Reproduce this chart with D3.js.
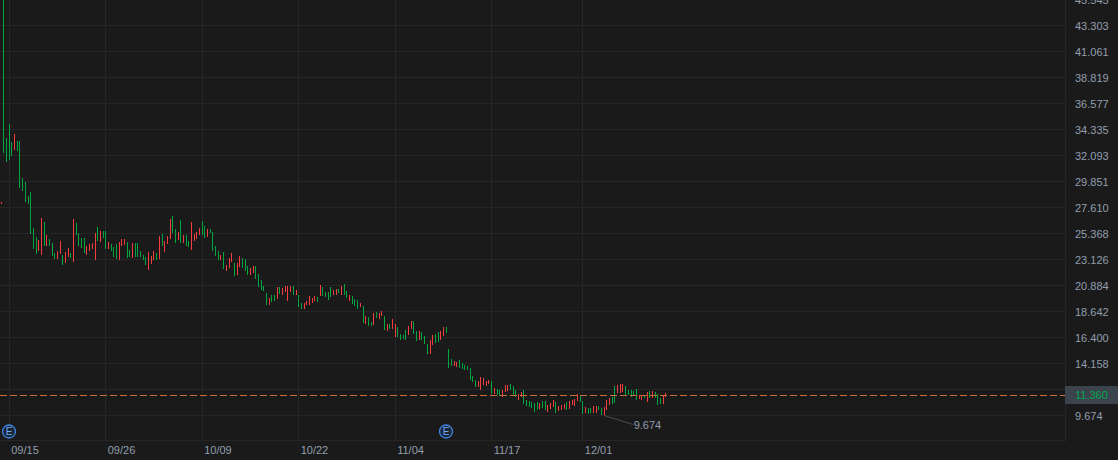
<!DOCTYPE html>
<html><head><meta charset="utf-8">
<script src="https://cdn.jsdelivr.net/npm/d3@7"></script>
<style>html,body{margin:0;padding:0;background:#1a1a1a;overflow:hidden}svg{display:block}text{font-family:"Liberation Sans",Arial,sans-serif}</style>
</head><body><svg id="c" width="1118" height="460"></svg>
<script>
const highs=[
28.09,46.5,33.58,34.80,33.24,33.93,33.32,33.32,30.14,29.79,
28.58,28.93,25.82,25.05,24.79,26.69,26.34,25.22,24.88,24.53,
23.67,23.84,24.70,23.50,23.76,24.10,23.67,26.60,26.25,25.39,
24.96,24.96,24.27,24.45,24.53,25.39,25.91,25.56,25.56,25.56,
24.62,24.45,24.19,24.45,24.62,24.88,24.88,24.62,23.93,24.53,
24.53,24.53,23.84,23.50,23.32,23.76,23.41,23.84,23.67,25.13,
25.31,24.70,25.13,26.60,26.86,25.73,25.48,26.51,25.22,25.22,
24.70,26.34,25.31,25.48,25.82,26.43,26.00,25.73,25.73,25.48,
24.27,23.84,23.50,23.76,22.63,23.24,23.67,22.80,22.80,23.41,
23.24,23.15,22.54,22.37,22.54,22.54,21.86,21.34,20.82,20.22,
19.79,20.05,20.05,20.74,20.74,20.65,20.82,20.82,20.82,20.82,
20.48,20.05,19.36,19.36,19.53,19.96,19.79,19.96,19.88,20.91,
20.74,20.31,20.31,20.74,20.48,20.56,20.56,20.82,20.99,20.39,
20.05,19.96,19.70,19.62,19.36,19.10,18.24,18.15,17.72,18.50,
18.58,18.50,18.67,18.24,17.55,17.55,17.98,17.55,17.29,16.69,
16.60,17.03,17.37,17.80,17.80,16.94,16.94,16.86,16.51,15.82,
16.17,16.60,16.69,16.86,16.94,17.29,17.29,15.39,14.53,14.35,
14.27,14.44,14.18,14.01,13.92,13.75,13.06,12.72,12.63,12.97,
12.89,12.63,12.72,12.63,12.03,11.94,11.85,11.85,12.28,12.28,
12.37,12.20,11.85,11.51,11.68,11.85,10.99,10.91,10.82,10.73,
10.82,10.73,10.91,10.91,10.56,10.73,10.99,10.82,10.47,10.56,
10.65,10.82,10.91,10.99,11.08,11.51,11.34,10.91,10.39,10.30,
10.30,10.47,10.47,10.47,10.30,10.39,10.99,11.16,11.25,12.20,
12.28,12.37,12.37,12.20,11.85,11.85,11.77,11.94,11.42,11.42,
11.34,11.68,11.77,11.77,11.68,11.51,11.16,11.34,11.60];
const lows=[
27.90,32.29,31.52,31.69,32.03,32.55,32.46,29.27,29.01,28.07,
27.90,25.31,24.02,23.59,23.84,23.50,24.27,24.27,24.27,23.41,
23.15,23.15,23.59,22.63,22.80,23.32,23.24,22.89,25.22,24.27,
24.10,23.67,23.50,23.84,24.02,23.06,24.70,24.62,24.96,24.02,
24.02,23.84,23.32,23.15,23.06,24.27,24.36,23.24,23.32,23.24,
23.32,23.32,23.32,23.06,22.63,22.20,22.72,23.06,23.06,23.15,
24.27,23.76,24.45,24.88,25.39,24.53,24.79,24.53,24.53,24.27,
24.19,23.93,24.70,24.88,25.22,25.22,24.96,25.05,25.39,23.84,
23.41,23.06,23.06,22.29,22.11,22.37,22.89,21.69,21.77,22.46,
22.37,22.11,21.77,21.77,21.94,21.43,20.74,20.48,20.39,19.18,
19.18,19.44,19.53,19.70,20.13,20.05,20.31,19.53,20.31,20.05,
20.05,19.01,18.84,18.84,19.18,19.18,19.36,19.53,19.44,19.96,
19.96,19.88,19.62,19.88,20.05,20.05,20.22,20.05,20.05,19.79,
19.53,19.27,19.10,18.84,19.01,17.63,17.55,17.37,17.37,17.46,
18.06,17.98,18.24,17.03,16.94,17.11,17.11,16.43,16.43,16.17,
16.26,16.17,16.60,17.11,16.69,16.08,16.17,16.17,15.82,14.96,
14.96,15.73,15.91,16.00,16.17,16.51,16.77,13.75,13.92,13.92,
13.84,13.75,13.67,13.58,13.58,12.72,12.54,12.11,12.11,11.85,
12.28,12.20,12.37,11.51,11.51,11.42,11.34,11.25,11.68,11.77,
11.85,11.42,11.25,10.99,11.25,10.65,10.47,10.39,10.30,9.96,
10.13,10.22,10.30,10.13,9.96,10.22,10.39,9.87,10.04,10.13,
10.22,10.13,10.22,10.56,10.47,10.91,10.82,9.78,9.87,9.78,
9.87,9.87,9.87,10.13,9.69,9.674,10.13,10.56,10.65,10.73,
11.60,11.60,11.68,11.34,11.42,11.25,11.34,10.99,11.08,10.99,
11.16,10.82,11.16,11.16,11.16,10.56,10.65,10.65,11.25];
const sides=("rggggrgggg"+"ggggrrgrgg"+"grrgrrgrgg"+"ggrrrrgrgg"+"rgggrrrggr"+
"gggggrrrgr"+"grrrggrgrg"+"grrrrggrgg"+"ggrgrrrgrr"+"gggrrggggg"+
"rggrgrrrrg"+"rggrrrrrgr"+"ggggrrgrgg"+"rgggrgrggr"+"grrgrgrrgg"+
"ggrrggrggg"+"rrggrrgggr"+"rggggggg"+"rr"+"rrrgrggrrr"+"gggrrggggg"+
"grggrrrgrr"+"rgrrrrggrg"+"grrggrrrgg"+"rrrgggggrr"+"grgrgggrr").split("");
const tickLabels=["09/15","09/26","10/09","10/22","11/04","11/17","12/01"];
const tickBars=[3,39,75,111,147,183,217];
const priceTicks=[9.674,11.916,14.158,16.4,18.642,20.884,23.126,25.368,27.61,29.851,32.093,34.335,36.577,38.819,41.061,43.303,45.545];
const lastPrice=11.36;
const lowPrice=9.674, lowBar=225;
const earningsBars=[3,166];

const W=1118,H=460,right=1065,bottom=440;
const svg=d3.select("#c");
svg.append("rect").attr("width",W).attr("height",H).attr("fill","#1a1a1a");
const y=d3.scaleLinear().domain([9.674,43.303]).range([415.5,25.5]);
const x=d3.scaleLinear().domain([0,36]).range([1.2,97.68]);
const green="#00a63f",red="#f73e3e",axisCol="#929eae",gridCol="#262626";
const fontSize=11;

svg.append("defs").append("clipPath").attr("id","plot").append("rect").attr("width",right).attr("height",bottom);

const yAxis=d3.axisRight(y).tickValues(priceTicks).tickFormat(d3.format(".3f")).tickSize(0).tickPadding(10);
const xAxis=d3.axisBottom(x).tickValues(tickBars).tickFormat((d,i)=>tickLabels[i]).tickSize(0).tickPadding(6);
const grid=svg.append("g").attr("shape-rendering","crispEdges").attr("stroke",gridCol);
grid.selectAll("line.h").data(priceTicks.filter(d=>y(d)>0)).join("line").attr("class","h")
  .attr("x1",0).attr("x2",right).attr("y1",d=>Math.floor(y(d))+.5).attr("y2",d=>Math.floor(y(d))+.5);
grid.selectAll("line.v").data(tickBars).join("line").attr("class","v")
  .attr("y1",0).attr("y2",bottom).attr("x1",d=>Math.floor(x(d))+.5).attr("x2",d=>Math.floor(x(d))+.5);
grid.append("line").attr("x1",right+.5).attr("x2",right+.5).attr("y1",0).attr("y2",bottom+.5);
grid.append("line").attr("x1",0).attr("x2",right+.5).attr("y1",bottom+.5).attr("y2",bottom+.5);

svg.append("g").attr("clip-path","url(#plot)").attr("shape-rendering","crispEdges")
  .selectAll("rect").data(highs).join("rect")
  .attr("x",(d,i)=>Math.floor(x(i)))
  .attr("width",1)
  .attr("y",d=>y(d))
  .attr("height",(d,i)=>Math.max(1,y(lows[i])-y(d)))
  .attr("fill",(d,i)=>sides[i]==="g"?green:red);

svg.append("line").attr("x1",0).attr("x2",right).attr("y1",Math.floor(y(lastPrice))+.5).attr("y2",Math.floor(y(lastPrice))+.5)
  .attr("stroke","#c46f35").attr("stroke-dasharray","7 3").attr("shape-rendering","crispEdges");

const gy=svg.append("g").attr("transform",`translate(${right},0)`).call(yAxis);
gy.select(".domain").remove();
gy.selectAll("text").attr("fill",axisCol).attr("font-size",fontSize).attr("font-family","'Liberation Sans',Arial,sans-serif");
gy.selectAll(".tick").filter(d=>d===11.916).remove();
const gx=svg.append("g").attr("transform",`translate(0,${bottom})`).call(xAxis);
gx.select(".domain").remove();
gx.selectAll("text").attr("fill",axisCol).attr("font-size",fontSize).attr("text-anchor","start").attr("dx",1.5).attr("font-family","'Liberation Sans',Arial,sans-serif");

svg.append("rect").attr("x",right).attr("y",386).attr("width",W-right).attr("height",18).attr("fill","#3b444c");
svg.append("text").attr("x",right+10).attr("y",y(lastPrice)-.5).attr("dy","0.35em").attr("fill","#00a94f").attr("font-size",fontSize).text(d3.format(".3f")(lastPrice));

svg.append("line").attr("x1",x(lowBar)).attr("x2",x(lowBar)+29).attr("y1",y(lowPrice)).attr("y2",y(lowPrice)+9).attr("stroke","#4a4a4a").attr("stroke-width",1);
svg.append("text").attr("x",x(lowBar)+29.5).attr("y",y(lowPrice)+10).attr("dy","0.35em").attr("fill",axisCol).attr("font-size",fontSize).text(d3.format(".3f")(lowPrice));

const eg=svg.append("g").selectAll("g").data(earningsBars).join("g").attr("transform",d=>`translate(${Math.floor(x(d))},431.5)`);
eg.append("circle").attr("r",6.5).attr("fill","#1c2735").attr("stroke","#3f86e4").attr("stroke-width",1.3);
eg.append("text").attr("text-anchor","middle").attr("dy","0.36em").attr("font-size",10).attr("fill","#6aa8f5").text("E");
</script></body></html>
